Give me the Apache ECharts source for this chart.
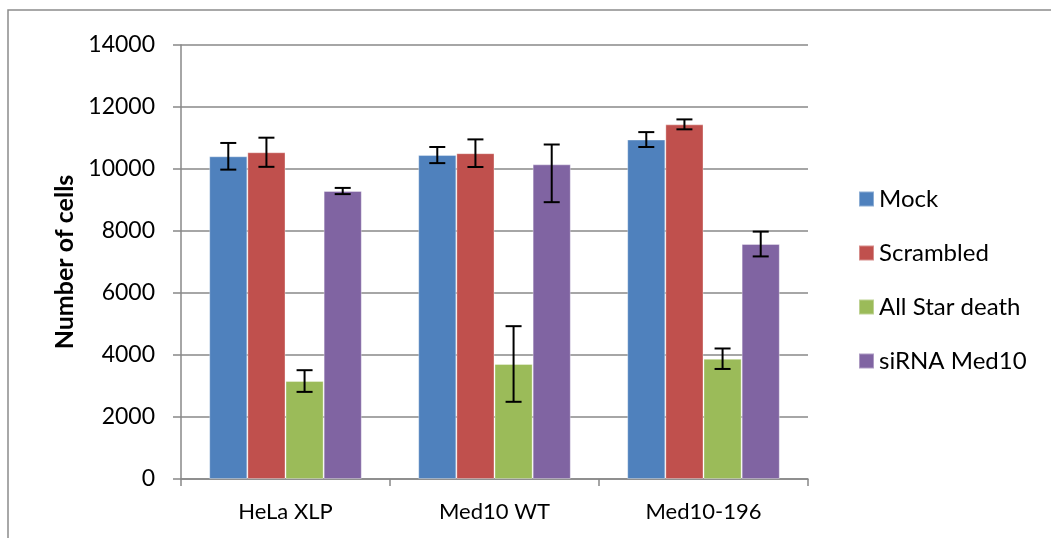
<!DOCTYPE html>
<html>
<head>
<meta charset="utf-8">
<script src="https://cdn.jsdelivr.net/npm/echarts@6/dist/echarts.min.js"></script>
<style>
html,body{margin:0;padding:0;background:#fff;}
#chart{width:1051px;height:538px;}
</style>
</head>
<body>
<div id="chart"></div>
<script>
const categories = ['HeLa XLP', 'Med10 WT', 'Med10-196'];
const seriesNames = ['Mock', 'Scrambled', 'All Star death', 'siRNA Med10'];
const mockValues = [10410, 10450, 10950];
const scrambledValues = [10540, 10510, 11440];
const allStarValues = [3160, 3710, 3880];
const sirnaValues = [9290, 10150, 7580];
const mockErrPlus = [430, 260, 240];
const mockErrMinus = [430, 260, 240];
const scrambledErrPlus = [470, 445, 160];
const scrambledErrMinus = [470, 445, 160];
const allStarErrPlus = [350, 1220, 330];
const allStarErrMinus = [350, 1220, 330];
const sirnaErrPlus = [100, 640, 400];
const sirnaErrMinus = [100, 1220, 400];
const yTicks = [0, 2000, 4000, 6000, 8000, 10000, 12000, 14000];
const colors = ['#4F81BD', '#C0504D', '#9BBB59', '#8064A2'];

const values = [mockValues, scrambledValues, allStarValues, sirnaValues];
const errPlus = [mockErrPlus, scrambledErrPlus, allStarErrPlus, sirnaErrPlus];
const errMinus = [mockErrMinus, scrambledErrMinus, allStarErrMinus, sirnaErrMinus];
const FONT = 'Lato, "Open Sans", sans-serif';
const CAT_GAP = 0.27;

const chart = echarts.init(document.getElementById('chart'));

const barSeries = seriesNames.map((name, i) => ({
  name: name,
  type: 'bar',
  data: values[i],
  barGap: '0%',
  barCategoryGap: (CAT_GAP * 100) + '%',
  itemStyle: { color: colors[i], borderColor: 'rgba(255,255,255,0.35)', borderWidth: 1 },
  emphasis: { disabled: true },
  z: 2
}));

const errSeries = seriesNames.map((name, i) => ({
  type: 'custom',
  name: name + ' err',
  data: categories.map((c, k) => [k, values[i][k] - errMinus[i][k], values[i][k] + errPlus[i][k]]),
  z: 5,
  silent: true,
  renderItem: function (params, api) {
    const k = api.value(0);
    const lo = api.coord([k, api.value(1)]);
    const hi = api.coord([k, api.value(2)]);
    const band = api.size([1, 0])[0];
    const bw = band * (1 - CAT_GAP) / seriesNames.length;
    const x = lo[0] + (i - (seriesNames.length - 1) / 2) * bw;
    const cap = 8;
    const style = { stroke: '#000', lineWidth: 2, fill: null };
    return {
      type: 'group',
      children: [
        { type: 'line', shape: { x1: x, y1: hi[1], x2: x, y2: lo[1] }, style: style },
        { type: 'line', shape: { x1: x - cap, y1: hi[1], x2: x + cap, y2: hi[1] }, style: style },
        { type: 'line', shape: { x1: x - cap, y1: lo[1], x2: x + cap, y2: lo[1] }, style: style }
      ]
    };
  }
}));

chart.setOption({
  animation: false,
  backgroundColor: '#fff',
  textStyle: { fontFamily: FONT },
  graphic: [{
    type: 'rect',
    shape: { x: 8, y: 10, width: 1060, height: 560 },
    style: { fill: null, stroke: '#8c8c8c', lineWidth: 1.5 },
    silent: true
  }],
  grid: { left: 181, right: 243, top: 45, bottom: 59, containLabel: false },
  legend: {
    orient: 'vertical',
    left: 853,
    top: 182,
    itemWidth: 15,
    itemHeight: 15,
    itemGap: 30,
    icon: 'rect',
    data: seriesNames,
    textStyle: { fontFamily: FONT, fontSize: 24, color: '#000' },
    selectedMode: false
  },
  xAxis: {
    type: 'category',
    data: categories,
    axisLine: { lineStyle: { color: '#888', width: 1.5 } },
    axisTick: { show: true, length: 7, lineStyle: { color: '#888', width: 1.5 } },
    axisLabel: { fontFamily: FONT, fontSize: 22, color: '#000', margin: 22 }
  },
  yAxis: {
    type: 'value',
    min: yTicks[0],
    max: yTicks[yTicks.length - 1],
    interval: 2000,
    name: 'Number of cells',
    nameLocation: 'middle',
    nameGap: 104,
    nameRotate: 90,
    nameTextStyle: { fontFamily: FONT, fontSize: 25, fontWeight: 'bold', color: '#000' },
    axisLine: { show: true, lineStyle: { color: '#888', width: 1.5 } },
    axisTick: { show: true, length: 8, lineStyle: { color: '#888', width: 1.5 } },
    splitLine: { show: true, lineStyle: { color: '#888', width: 1.5 } },
    axisLabel: { fontFamily: FONT, fontSize: 23, color: '#000', margin: 26, formatter: v => String(v) }
  },
  series: barSeries.concat(errSeries)
});
</script>
</body>
</html>
